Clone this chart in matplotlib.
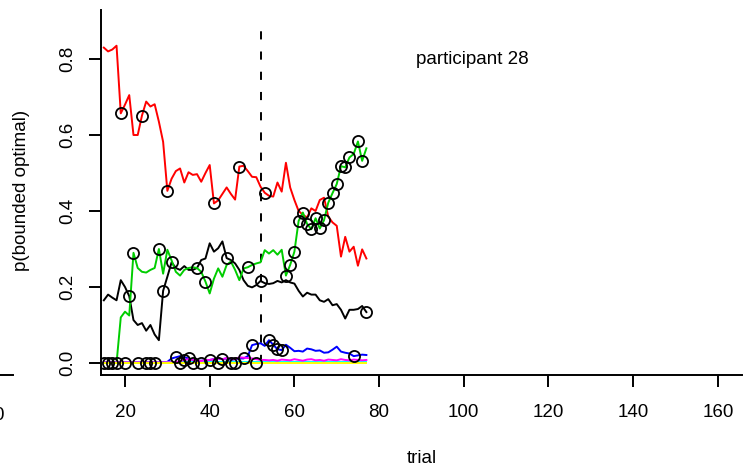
import matplotlib
matplotlib.use('Agg')
from matplotlib import pyplot as plt
from matplotlib.lines import Line2D

plt.rcParams['font.family'] = ['Liberation Sans', 'DejaVu Sans']

# trials shown for this participant
trials = list(range(15, 78))

# p(bounded optimal) per strategy, one value per trial
red = [0.830, 0.820, 0.825, 0.835, 0.657, 0.680, 0.705, 0.600, 0.600, 0.651,
       0.688, 0.675, 0.681, 0.635, 0.582, 0.453, 0.485, 0.505, 0.512, 0.475,
       0.502, 0.495, 0.497, 0.477, 0.500, 0.521, 0.420, 0.428, 0.445, 0.462,
       0.445, 0.430, 0.517, 0.519, 0.505, 0.490, 0.489, 0.464, 0.448, 0.440,
       0.438, 0.475, 0.451, 0.527, 0.462, 0.429, 0.400, 0.390, 0.383, 0.407,
       0.400, 0.429, 0.435, 0.385, 0.370, 0.361, 0.280, 0.332, 0.293, 0.306,
       0.256, 0.299, 0.275]
green = [0.0, 0.0, 0.0, 0.0, 0.120, 0.135, 0.125, 0.290, 0.250, 0.240,
         0.238, 0.245, 0.250, 0.300, 0.235, 0.298, 0.270, 0.240, 0.230, 0.245,
         0.250, 0.252, 0.250, 0.240, 0.214, 0.183, 0.222, 0.249, 0.227, 0.258,
         0.267, 0.245, 0.218, 0.249, 0.252, 0.258, 0.262, 0.265, 0.297, 0.288,
         0.297, 0.285, 0.298, 0.230, 0.258, 0.293, 0.374, 0.396, 0.366, 0.352,
         0.381, 0.354, 0.376, 0.422, 0.447, 0.471, 0.518, 0.515, 0.541, 0.550,
         0.583, 0.532, 0.565]
black = [0.165, 0.180, 0.172, 0.165, 0.218, 0.200, 0.176, 0.113, 0.100, 0.105,
         0.085, 0.100, 0.075, 0.060, 0.190, 0.227, 0.265, 0.250, 0.245, 0.255,
         0.245, 0.245, 0.250, 0.271, 0.275, 0.315, 0.293, 0.302, 0.320, 0.276,
         0.271, 0.262, 0.245, 0.218, 0.203, 0.199, 0.205, 0.216, 0.210, 0.208,
         0.210, 0.216, 0.212, 0.218, 0.212, 0.209, 0.190, 0.175, 0.185, 0.180,
         0.180, 0.165, 0.161, 0.168, 0.152, 0.155, 0.140, 0.117, 0.140, 0.140,
         0.142, 0.150, 0.134]
blue = [0.002, 0.002, 0.002, 0.002, 0.002, 0.002, 0.002, 0.002, 0.002, 0.002,
        0.002, 0.002, 0.002, 0.002, 0.002, 0.003, 0.012, 0.015, 0.018, 0.015,
        0.012, 0.008, 0.006, 0.006, 0.007, 0.008, 0.010, 0.012, 0.010, 0.012,
        0.008, 0.010, 0.012, 0.012, 0.018, 0.047, 0.050, 0.052, 0.045, 0.060,
        0.048, 0.036, 0.034, 0.048, 0.040, 0.031, 0.032, 0.030, 0.038, 0.036,
        0.032, 0.033, 0.027, 0.028, 0.035, 0.043, 0.030, 0.027, 0.025, 0.018,
        0.020, 0.022, 0.021]
magenta = [0.002, 0.002, 0.002, 0.002, 0.002, 0.002, 0.002, 0.002, 0.002, 0.002,
           0.002, 0.002, 0.002, 0.002, 0.002, 0.002, 0.002, 0.002, 0.005, 0.008,
           0.010, 0.008, 0.006, 0.005, 0.008, 0.008, 0.010, 0.012, 0.010, 0.013,
           0.012, 0.010, 0.015, 0.014, 0.013, 0.012, 0.010, 0.008, 0.008, 0.007,
           0.008, 0.006, 0.009, 0.008, 0.007, 0.010, 0.008, 0.006, 0.009, 0.010,
           0.007, 0.008, 0.006, 0.009, 0.008, 0.007, 0.010, 0.008, 0.007, 0.009,
           0.008, 0.007, 0.008]
cyan = [0.002] * 63
yellow = [0.0] * 63

# strategy the circle marks on each trial
chosen = ['y', 'y', 'y', 'y', 'r', 'y', 'k', 'g', 'y', 'r',
          'y', 'y', 'y', 'g', 'k', 'r', 'k', 'b', 'y', 'm',
          'b', 'y', 'k', 'y', 'g', 'm', 'r', 'y', 'm', 'k',
          'y', 'y', 'r', 'b', 'g', 'b', 'y', 'k', 'r', 'b',
          'b', 'b', 'b', 'g', 'g', 'g', 'g', 'g', 'g', 'g',
          'g', 'g', 'g', 'g', 'g', 'g', 'g', 'g', 'g', 'b',
          'g', 'g', 'k']

switch_trial = 52
panel_label = 'participant 28'

series = {'k': black, 'r': red, 'g': green, 'b': blue,
          'c': cyan, 'm': magenta, 'y': yellow}
colours = {'k': 'black', 'r': '#ff0000', 'g': '#00cd00', 'b': '#0000ff',
           'c': '#00ffff', 'm': '#ff00ff', 'y': '#ffff00'}

fs = 13.5
fig = plt.figure(figsize=(7.55, 4.73), dpi=100)
ax = fig.add_axes([101 / 755, 1 - 375 / 473, 641 / 755, 365 / 473])

lw = 1.4
for key in ['k', 'r', 'g', 'b', 'c', 'm', 'y']:
    ax.plot(trials, series[key], color=colours[key], lw=lw, zorder=2)

circle_y = [series[c][i] for i, c in enumerate(chosen)]
ax.plot(trials, circle_y, 'o', ms=8, mfc='none', mec='black', mew=1.3, zorder=3)

ax.plot([switch_trial, switch_trial], [0, 0.9], color='black', lw=lw,
        linestyle=(0, (4.2, 6.2)), zorder=1)
ax.text(102, 0.8, panel_label, ha='center', va='center', fontsize=fs)

ax.set_xlim(14.33, 165.7)
ax.set_ylim(-0.0316, 0.929)
ax.set_xticks([20, 40, 60, 80, 100, 120, 140, 160])
ax.set_yticks([0.0, 0.2, 0.4, 0.6, 0.8])
ax.set_yticklabels(['0.0', '0.2', '0.4', '0.6', '0.8'])
for s in ['top', 'right']:
    ax.spines[s].set_visible(False)
for s in ['left', 'bottom']:
    ax.spines[s].set_linewidth(lw)
ax.tick_params(axis='both', direction='out', length=8.6, width=lw, labelsize=fs)
ax.tick_params(axis='x', pad=12)
ax.tick_params(axis='y', pad=9)
for lab in ax.get_yticklabels():
    lab.set_rotation(90)
    lab.set_va('center')

fig.text(421.5 / 755, 1 - 458 / 473, 'trial', ha='center', va='center', fontsize=fs)
fig.text(22 / 755, 1 - 190 / 473, 'p(bounded optimal)', ha='center', va='center',
         rotation=90, fontsize=fs)

# edge of the neighbouring panel
fig.text(-1 / 755, 1 - 415 / 473, '0', ha='center', va='center', fontsize=fs)
fig.add_artist(Line2D([0, 13 / 755], [1 - 375 / 473, 1 - 375 / 473],
                      color='black', lw=lw, transform=fig.transFigure))

fig.savefig('out.png', dpi=100)
